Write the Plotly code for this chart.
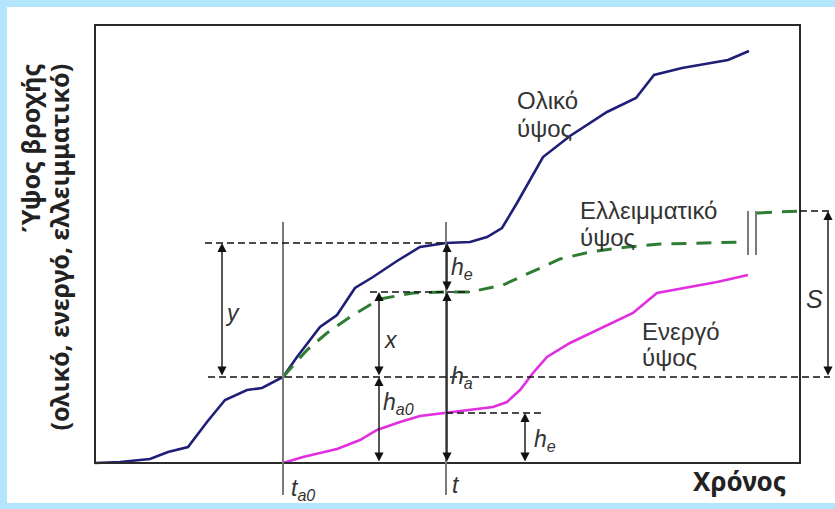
import plotly.graph_objects as go

# Cumulative rainfall curves (time units, height units)
t_total = [0, 25, 55, 73, 93, 112, 130, 152, 167, 188, 202, 225, 242, 260, 278, 302,
           325, 351, 375, 392, 407, 422, 448, 475, 512, 541, 559, 587, 633, 654]
h_total = [0, 1, 4, 11, 16, 41, 63, 73, 75, 86, 106, 136, 148, 175, 186, 202,
           216, 220, 221, 226, 235, 260, 306, 327, 351, 365, 388, 395, 403, 412]

t_excess = [188, 212, 232, 258, 285, 318, 351, 375, 408, 435, 465, 495, 532, 565, 605, 650]
h_excess = [86, 113, 130, 148, 164, 170, 171, 171, 178, 190, 204, 211, 216, 219, 220, 221]
t_excess_end = [662, 705]
h_excess_end = [250, 252]

t_eff = [188, 208, 242, 265, 282, 305, 325, 351, 378, 398, 412, 425, 438, 452, 475,
         508, 538, 562, 588, 622, 653]
h_eff = [0, 6, 14, 23, 33, 41, 47, 50, 53, 56, 61, 73, 90, 106, 120, 136, 150, 170,
         175, 181, 188]

# Key instants and levels
T_END = 705          # right edge of the frame
H_TOP = 438          # top edge of the frame
t_a0 = 188           # start of effective rainfall
t_now = 351          # current time t
h_a0 = 86            # initial abstraction
P_now = 220          # total depth at t
Fa_now = 171         # total minus effective depth at t
he_now = 50          # effective depth at t
S_top = 252          # potential maximum retention level

C_TOTAL = "#1f1f78"
C_EXCESS = "#2e7d32"
C_EFF = "#e02ee0"
C_GREY = "#7a7a7a"
C_TEXT = "#333333"

fig = go.Figure()

fig.add_trace(go.Scatter(x=t_total, y=h_total, mode="lines",
                         line=dict(color=C_TOTAL, width=2.6), hoverinfo="skip"))
fig.add_trace(go.Scatter(x=t_excess, y=h_excess, mode="lines",
                         line=dict(color=C_EXCESS, width=3, dash="15px,10px"),
                         hoverinfo="skip"))
fig.add_trace(go.Scatter(x=t_excess_end, y=h_excess_end, mode="lines",
                         line=dict(color=C_EXCESS, width=3, dash="15px,10px"),
                         hoverinfo="skip"))
fig.add_trace(go.Scatter(x=t_eff, y=h_eff, mode="lines",
                         line=dict(color=C_EFF, width=2.6), hoverinfo="skip"))

shapes = []
# white sheet inside the coloured border
shapes.append(dict(type="rect", xref="paper", yref="paper", x0=7/835, x1=1, y0=6/509,
                   y1=1 - 7/509, fillcolor="white", line=dict(width=0), layer="below"))
# frame
shapes.append(dict(type="rect", x0=0, x1=T_END, y0=0, y1=H_TOP,
                   line=dict(color="#2a2a2a", width=2)))

# vertical time markers
for tv in (t_a0, t_now):
    shapes.append(dict(type="line", x0=tv, x1=tv, y0=-32, y1=241,
                       line=dict(color=C_GREY, width=2)))

# break marks on the excess curve
for tv in (653, 661):
    shapes.append(dict(type="line", x0=tv, x1=tv, y0=208, y1=252,
                       line=dict(color=C_GREY, width=2)))

# dashed reference levels
dash_levels = [
    (110, t_now, P_now),
    (275, 375, Fa_now),
    (113, 735, h_a0),
    (t_now, 450, he_now),
    (T_END, 735, S_top),
]
for x0, x1, yv in dash_levels:
    shapes.append(dict(type="line", x0=x0, x1=x1, y0=yv, y1=yv,
                       line=dict(color="#111111", width=1.3, dash="7px,4px")))

annotations = []


def arrow(xv, y0, y1):
    annotations.append(dict(x=xv, y=y0, ax=xv, ay=y1, xref="x", yref="y",
                            axref="x", ayref="y", text="", showarrow=True,
                            arrowhead=2, arrowside="end+start", arrowsize=1.3,
                            arrowwidth=1.4, arrowcolor="#111111", standoff=0,
                            startstandoff=0))


arrow(127, P_now, h_a0)        # y
arrow(284, Fa_now, h_a0)       # x
arrow(284, h_a0, 0)            # h_a0
arrow(352, P_now, Fa_now)      # h_e (upper)
arrow(352, Fa_now, 0)          # h_a
arrow(430, he_now, 0)          # h_e (lower)
arrow(733, S_top, h_a0)        # S


def label(txt, xv, yv, size=23, anchor="center"):
    annotations.append(dict(x=xv, y=yv, xref="x", yref="y", text=txt,
                            showarrow=False, xanchor=anchor, yanchor="middle",
                            font=dict(family="Liberation Sans, Arial", size=size,
                                      color=C_TEXT)))


label("<i>y</i>", 137, 150)
label("<i>x</i>", 296, 123)
label("<i>h</i><sub><i>a0</i></sub>", 303, 60)
label("<i>h</i><sub><i>e</i></sub>", 367, 195)
label("<i>h</i><sub><i>a</i></sub>", 367, 86)
label("<i>h</i><sub><i>e</i></sub>", 450, 23)
label("<i>S</i>", 719, 164, size=25)
label("<i>t</i><sub><i>a0</i></sub>", 208, -26)
label("<i>t</i>", 361, -22)

label("Ολικό", 420, 363, size=24, anchor="left")
label("ύψος", 420, 335, size=24, anchor="left")
label("Ελλειμματικό", 483, 253, size=24, anchor="left")
label("ύψος", 483, 226, size=24, anchor="left")
label("Ενεργό", 545, 132, size=24, anchor="left")
label("ύψος", 545, 106, size=24, anchor="left")

# axis titles
annotations.append(dict(x=644, y=-18, xref="x", yref="y", text="<b>Χρόνος</b>",
                        showarrow=False, xanchor="center", yanchor="middle",
                        font=dict(family="Noto Sans", size=26, color="#222222")))
annotations.append(dict(x=-65, y=401, xref="x", yref="y", text="<b>Ύψος βροχής</b>",
                        showarrow=False, xanchor="center", yanchor="top", textangle=-90,
                        font=dict(family="Noto Sans", size=25, color="#222222")))
annotations.append(dict(x=-37, y=401, xref="x", yref="y",
                        text="<b>(ολικό, ενεργό, ελλειμματικό)</b>",
                        showarrow=False, xanchor="center", yanchor="top", textangle=-90,
                        font=dict(family="Noto Sans", size=25, color="#222222")))

fig.update_layout(
    width=835, height=509, margin=dict(l=0, r=0, t=0, b=0),
    paper_bgcolor="#b3e5fc", plot_bgcolor="rgba(0,0,0,0)",
    showlegend=False, shapes=shapes, annotations=annotations,
    xaxis=dict(range=[-95, 740], visible=False, fixedrange=True),
    yaxis=dict(range=[-46, 463], visible=False, fixedrange=True),
)

fig.write_html("out.html")
